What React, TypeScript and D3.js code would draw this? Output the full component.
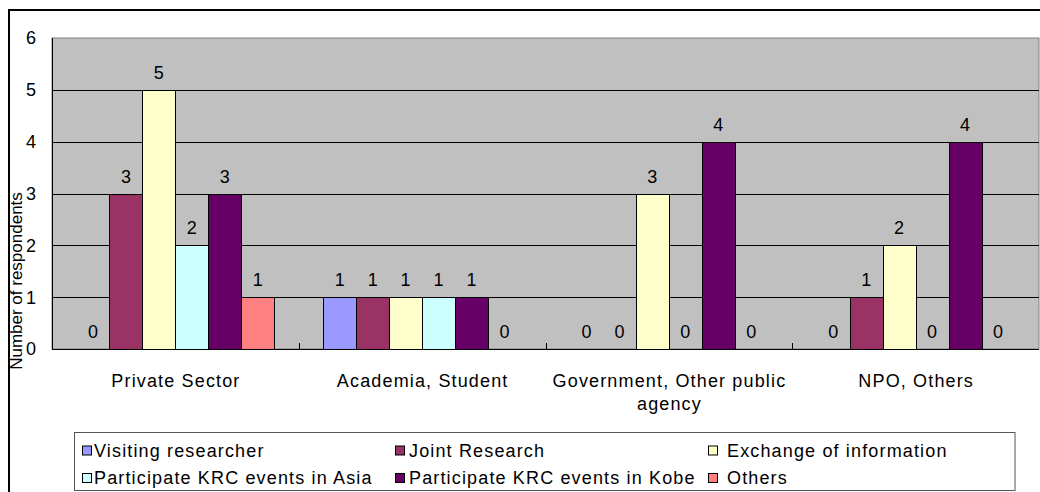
import React from "react";
import * as d3 from "d3";

// Respondent counts by sector and type of interest
const categories: string[][] = [
  ["Private Sector"],
  ["Academia, Student"],
  ["Government, Other public", "agency"],
  ["NPO, Others"],
];
const seriesNames = [
  "Visiting researcher",
  "Joint Research",
  "Exchange of information",
  "Participate KRC events in Asia",
  "Participate KRC events in Kobe",
  "Others",
];
const seriesColors = ["#9999FF", "#993366", "#FFFFCC", "#CCFFFF", "#660066", "#FF8080"];
const visitingResearcher = [0, 1, 0, 0];
const jointResearch = [3, 1, 0, 1];
const exchangeOfInformation = [5, 1, 3, 2];
const eventsInAsia = [2, 1, 0, 0];
const eventsInKobe = [3, 1, 4, 4];
const others = [1, 0, 0, 0];
const seriesValues = [
  visitingResearcher,
  jointResearch,
  exchangeOfInformation,
  eventsInAsia,
  eventsInKobe,
  others,
];
const yTicks = [0, 1, 2, 3, 4, 5, 6];

const W = 1040;
const H = 492;
const plot = { left: 52, right: 1039, top: 38, bottom: 349 };
const FONT = "'Liberation Sans', Arial, sans-serif";
const FS = 18;
const LS = 1.15;

export default function App() {
  const catKeys = categories.map((c) => c.join(" "));
  const x0 = d3.scaleBand<string>().domain(catKeys).range([plot.left, plot.right]).padding(0);
  const x1 = d3
    .scaleBand<string>()
    .domain(seriesNames)
    .range([0, x0.bandwidth()])
    .paddingInner(0)
    .paddingOuter(0.74);
  const y = d3.scaleLinear().domain([0, 6]).range([plot.bottom, plot.top]);

  const legendCols = [82, 395, 708];
  const legendTextX = [94, 409, 727];
  const legendRows = [450.5, 478];

  return (
    <svg
      width={W}
      height={H}
      style={{ position: "absolute", left: 0, top: 0, background: "#fff" }}
      fontFamily={FONT}
    >
      {/* chart frame */}
      <rect x={9} y={10} width={W + 10} height={H + 10} fill="#fff" stroke="#000" strokeWidth={2} />

      {/* plot area */}
      <rect
        x={plot.left}
        y={plot.top}
        width={plot.right - plot.left}
        height={plot.bottom - plot.top}
        fill="#C0C0C0"
        stroke="#808080"
        strokeWidth={1}
      />
      {yTicks
        .filter((t) => t > 0 && t < 6)
        .map((t) => (
          <line
            key={"g" + t}
            x1={plot.left}
            x2={plot.right}
            y1={Math.round(y(t)) + 0.5}
            y2={Math.round(y(t)) + 0.5}
            stroke="#000"
            strokeWidth={1}
          />
        ))}

      {/* bars */}
      {catKeys.map((c, ci) =>
        seriesNames.map((s, si) => {
          const v = seriesValues[si][ci];
          const bx = (x0(c) as number) + (x1(s) as number);
          const bw = x1.bandwidth();
          return (
            <g key={c + s}>
              {v > 0 && (
                <rect
                  x={Math.round(bx) + 0.5}
                  y={Math.round(y(v)) + 0.5}
                  width={Math.round(bw)}
                  height={Math.round(y(0)) - Math.round(y(v))}
                  fill={seriesColors[si]}
                  stroke="#000"
                  strokeWidth={1}
                />
              )}
              <text
                x={bx + bw / 2}
                y={y(v) - 11}
                textAnchor="middle"
                fontSize={FS}
                fill="#000"
              >
                {v}
              </text>
            </g>
          );
        })
      )}

      {/* axes */}
      <line x1={plot.left + 0.5} x2={plot.left + 0.5} y1={plot.top} y2={plot.bottom + 0.5} stroke="#000" />
      <line x1={plot.left} x2={plot.right} y1={plot.bottom + 0.5} y2={plot.bottom + 0.5} stroke="#000" />
      {catKeys.slice(1).map((c) => (
        <line
          key={"t" + c}
          x1={Math.round(x0(c) as number) + 0.5}
          x2={Math.round(x0(c) as number) + 0.5}
          y1={plot.bottom - 6}
          y2={plot.bottom}
          stroke="#000"
        />
      ))}
      {yTicks.map((t) => (
        <text
          key={"y" + t}
          x={36}
          y={y(t)}
          dy="0.36em"
          textAnchor="end"
          fontSize={FS}
          fill="#000"
        >
          {t}
        </text>
      ))}
      <text
        transform={`translate(22,281) rotate(-90)`}
        textAnchor="middle"
        fontSize={17}
        fill="#000"
      >
        Number of respondents
      </text>

      {/* category labels */}
      {categories.map((lines, ci) => (
        <text
          key={"c" + ci}
          x={(x0(catKeys[ci]) as number) + x0.bandwidth() / 2 + LS / 2}
          y={387}
          textAnchor="middle"
          fontSize={FS}
          letterSpacing={LS}
          fill="#000"
        >
          {lines.map((l, li) => (
            <tspan key={li} x={(x0(catKeys[ci]) as number) + x0.bandwidth() / 2 + LS / 2} dy={li === 0 ? 0 : 23}>
              {l}
            </tspan>
          ))}
        </text>
      ))}

      {/* legend */}
      <rect x={74.5} y={432.5} width={940.5} height={58} fill="#fff" stroke="#555" strokeWidth={1} />
      {seriesNames.map((s, i) => {
        const col = i % 3;
        const row = Math.floor(i / 3);
        const cy = legendRows[row];
        return (
          <g key={"l" + s}>
            <rect
              x={legendCols[col] + 0.5}
              y={cy - 4.5}
              width={9}
              height={9}
              fill={seriesColors[i]}
              stroke="#000"
              strokeWidth={1}
            />
            <text
              x={legendTextX[col]}
              y={cy}
              dy="0.36em"
              fontSize={FS}
              letterSpacing={LS}
              fill="#000"
            >
              {s}
            </text>
          </g>
        );
      })}
    </svg>
  );
}
